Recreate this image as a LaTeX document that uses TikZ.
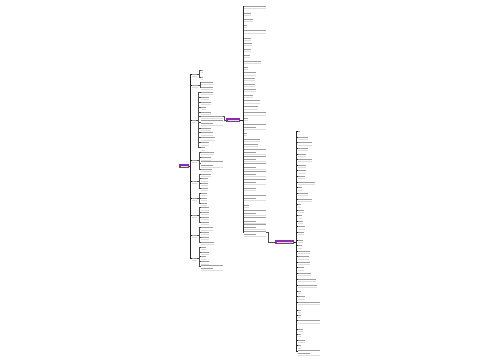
\documentclass[tikz,border=0pt]{standalone}
\usetikzlibrary{calc}
\definecolor{mmpurple}{HTML}{8A2BB0}
\tikzset{
 leaf/.style={inner sep=0pt, outer sep=0pt, anchor=west, minimum height=4pt},
 txt/.style={fill=black!38},
 ul/.style={draw=black!13, line width=0.35pt},
 conn/.style={draw=black!85, line width=0.6pt},
 subconn/.style={draw=black!70, line width=0.45pt},
 pnode/.style={fill=mmpurple, inner sep=0pt, outer sep=0pt, minimum height=4pt},
}
\newcommand\mmleaf[8]{%
 \ifnum#5=1\relax
  \node[leaf,minimum width=#4pt] (#1) at (#2,#3) {};
  \fill[txt] ([yshift=-0.5pt]#1.west) rectangle ([yshift=0.5pt]#1.east);
 \else
  \node[leaf,minimum width=#4pt,minimum height=6.5pt] (#1) at (#2,#3) {};
  \fill[txt] ([yshift=1.1pt]#1.west) rectangle ([yshift=2.1pt]#1.east);
  \fill[txt] ([yshift=-2.1pt]#1.west) rectangle ($(#1.west)!0.55!(#1.east)+(0pt,-1.1pt)$);
 \fi
 \draw[ul] (#1.south west) -- (#1.south east);
 \draw[#8] (#6.east) -- ++(#7,0) |- (#1.west);
}
\newcommand\mmpurple[4]{%
 \node[pnode,minimum width=#4pt] (#1) at (#2,#3) {};
 \fill[white!80!mmpurple] ([xshift=1.5pt,yshift=-0.5pt]#1.west) rectangle ([xshift=-1.5pt,yshift=0.5pt]#1.east);
}
\begin{document}
\begin{tikzpicture}[x=1pt,y=-1pt]
\useasboundingbox (0,0) rectangle (500,360);
\fill[white] (0,0) rectangle (500,360);
% root
\mmpurple{root}{184}{166}{10}
% branch labels
\foreach \y/\w [count=\i] in {74/5,85/6,120/4,160/5,181/5,198/5,215/5,235/5,258/5}
  {\mmleaf{b\i}{192}{\y}{\w}{1}{root}{1}{conn}}
% branch leaves
\foreach \y/\w/\n [count=\i] in {70/2/1,77/2/1}
  {\mmleaf{b1l\i}{200.5}{\y}{\w}{\n}{b1}{2}{subconn}}
\foreach \y/\w/\n [count=\i] in {82/12/1,87/12/1}
  {\mmleaf{b2l\i}{200.5}{\y}{\w}{\n}{b2}{2}{subconn}}
\foreach \y/\w/\n [count=\i] in {92.3/12/1,97.3/8/1,102.3/10/1,107.3/5/1,112.3/10/1,116.5/22/1,122/22/2,128.3/10/1,132.7/12/1,137.7/14/1,142.7/8/1,147.7/4/1}
  {\mmleaf{b3l\i}{200.5}{\y}{\w}{\n}{b3}{2}{subconn}}
\foreach \y/\w/\n [count=\i] in {152.3/13/1,157.7/10/1,163.5/22/2,169.3/11/1}
  {\mmleaf{b4l\i}{200.5}{\y}{\w}{\n}{b4}{2}{subconn}}
\foreach \y/\w/\n [count=\i] in {174/10/1,178.7/7/1,183.3/7/1,188.3/7/1}
  {\mmleaf{b5l\i}{200.5}{\y}{\w}{\n}{b5}{2}{subconn}}
\foreach \y/\w/\n [count=\i] in {193.3/6/1,198.3/6/1,203.3/6/1}
  {\mmleaf{b6l\i}{200.5}{\y}{\w}{\n}{b6}{2}{subconn}}
\foreach \y/\w/\n [count=\i] in {207.7/8/1,212.3/8/1,217.3/8/1,222.3/8/1}
  {\mmleaf{b7l\i}{200.5}{\y}{\w}{\n}{b7}{2}{subconn}}
\foreach \y/\w/\n [count=\i] in {227.7/12/1,232.3/8/1,237.3/8/1,242/13/1}
  {\mmleaf{b8l\i}{200.5}{\y}{\w}{\n}{b8}{2}{subconn}}
\foreach \y/\w/\n [count=\i] in {247.3/5/1,252/8/1,256.7/5/1,261.7/8/1,266.7/22/2}
  {\mmleaf{b9l\i}{200.5}{\y}{\w}{\n}{b9}{2}{subconn}}
% P1
\mmpurple{P1}{233}{120}{14}
\draw[subconn] (b3l6.east) -- ++(1.5,0) |- (P1.west);
\foreach \y/\w/\n [count=\i] in {6/22/1,13.3/7/1,19.3/9/1,25/3/1,30.7/22/1,38.3/7/1,43.3/8/1,49.3/7/1,55.3/6/1,61.3/17/1,67/4/1,72.7/12/1,78.3/11/1,84/11/1,89.3/12/1,95/9/1,100.7/16/1,106.7/14/1,112.7/22/1,118.3/4/1,126.2/22/2,133.3/3/1,139.3/16/1,144.3/14/1,150.7/22/2,158.3/22/2,165.5/22/2,173.3/22/2,181/22/2,188.3/12/1,196.7/22/2,205/5/1,211.7/22/2,219.5/22/2,226.2/22/2,232.7/22/2}
  {\mmleaf{a\i}{244.3}{\y}{\w}{\n}{P1}{3}{conn}}
% P2
\mmpurple{P2}{284.5}{242}{19}
\draw[subconn] (a36.east) -- ++(2,0) |- (P2.west);
\foreach \y/\w/\n [count=\i] in {131.7/2/1,137.3/10/1,142.7/14/1,148.3/10/1,154/8/1,159.3/14/1,165/8/1,170.7/8/1,176/7/1,182/17/1,187.7/4/1,193.3/10/1,199/14/1,204.7/3/1,210.3/6/1,215.7/4/1,221.3/5/1,226.7/7/1,232.3/6/1,240/5/1,245.7/4/1,251/12/1,256.7/11/1,262.3/12/1,267.7/6/1,273.3/13/1,279/18/1,285/19/1,291/3/1,296.7/7/1,302/22/1,310/3/1,315.3/3/1,320.7/22/1,329/5/1,334.3/3/1,340/7/1,345.7/3/1,351.7/22/2}
  {\mmleaf{c\i}{298.3}{\y}{\w}{\n}{P2}{2.7}{conn}}
\end{tikzpicture}
\end{document}
